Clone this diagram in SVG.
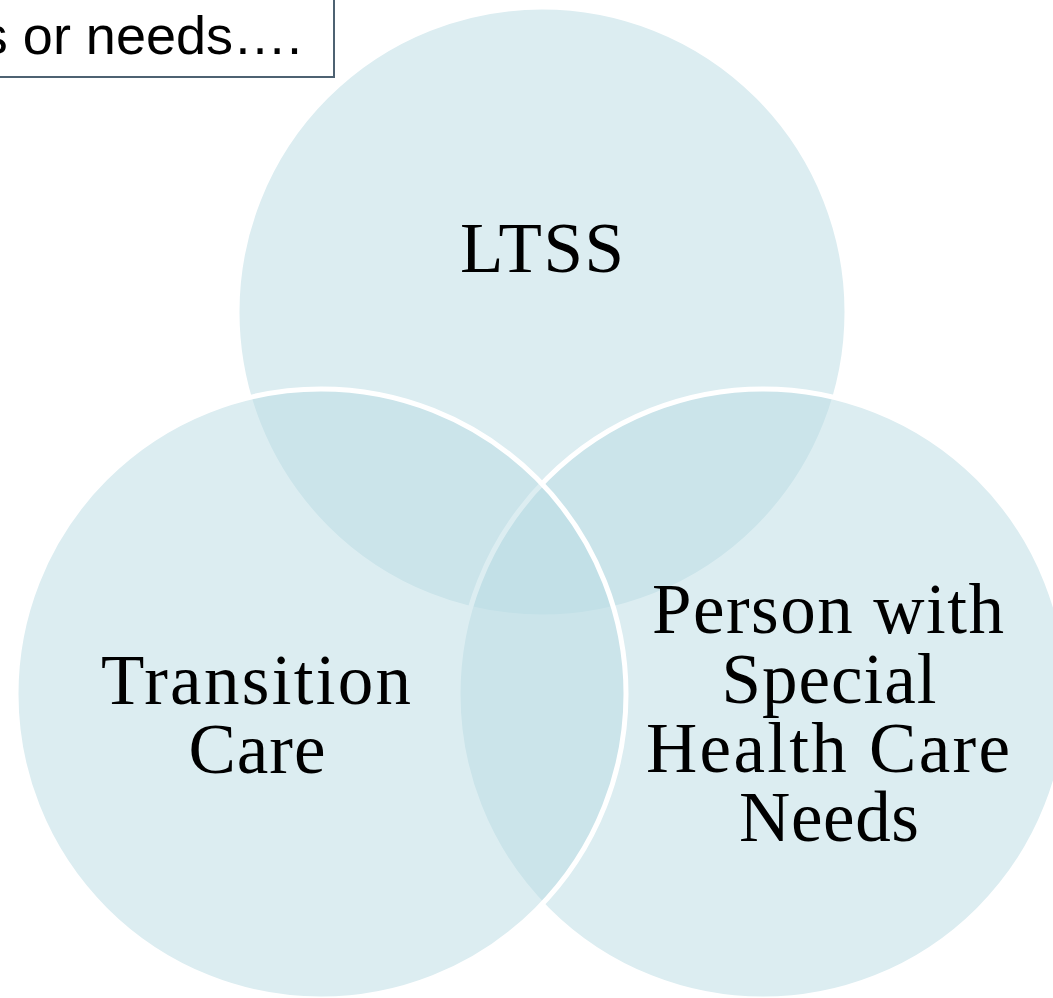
<svg xmlns="http://www.w3.org/2000/svg" width="1053" height="998" viewBox="0 0 1053 998">
  <style>
    .ring { fill: #BADCE3; fill-opacity: 0.5; stroke: #FFFFFF; stroke-width: 5; }
    .label { font-family: "Liberation Serif", "Times New Roman", serif; font-size: 71px; fill: #000000; text-anchor: middle; }
    .note-box { fill: #FFFFFF; stroke: #4E6272; stroke-width: 2; }
    .note { font-family: "Liberation Sans", Arial, sans-serif; font-size: 54px; fill: #000000; text-anchor: end; }
  </style>
  <rect width="1053" height="998" fill="#FFFFFF"/>

  <!-- Three overlapping sets -->
  <g id="ltss">
    <circle class="ring" cx="542" cy="312" r="305"/>
    <text class="label" x="542" y="272" textLength="164" lengthAdjust="spacing">LTSS</text>
  </g>
  <g id="special-needs">
    <circle class="ring" cx="763" cy="694" r="305"/>
  </g>
  <g id="transition-care">
    <circle class="ring" cx="321" cy="694" r="305"/>
  </g>

  <!-- Labels on top of all fills -->
  <g id="transition-care-label">
    <text class="label" x="256" y="704" textLength="310" lengthAdjust="spacing">Transition</text>
    <text class="label" x="257" y="773" textLength="137" lengthAdjust="spacing">Care</text>
  </g>
  <g id="special-needs-label">
    <text class="label" x="828" y="633" textLength="352" lengthAdjust="spacing">Person with</text>
    <text class="label" x="829" y="703" textLength="215" lengthAdjust="spacing">Special</text>
    <text class="label" x="828" y="772" textLength="364" lengthAdjust="spacing">Health Care</text>
    <text class="label" x="829" y="841" textLength="180" lengthAdjust="spacing">Needs</text>
  </g>

  <!-- Caption box clipped at the top-left corner -->
  <g id="caption">
    <rect class="note-box" x="-20" y="-20" width="354" height="97"/>
    <text class="note" x="302" y="54">s or needs….</text>
  </g>

  <g id="connectors"/>
</svg>
